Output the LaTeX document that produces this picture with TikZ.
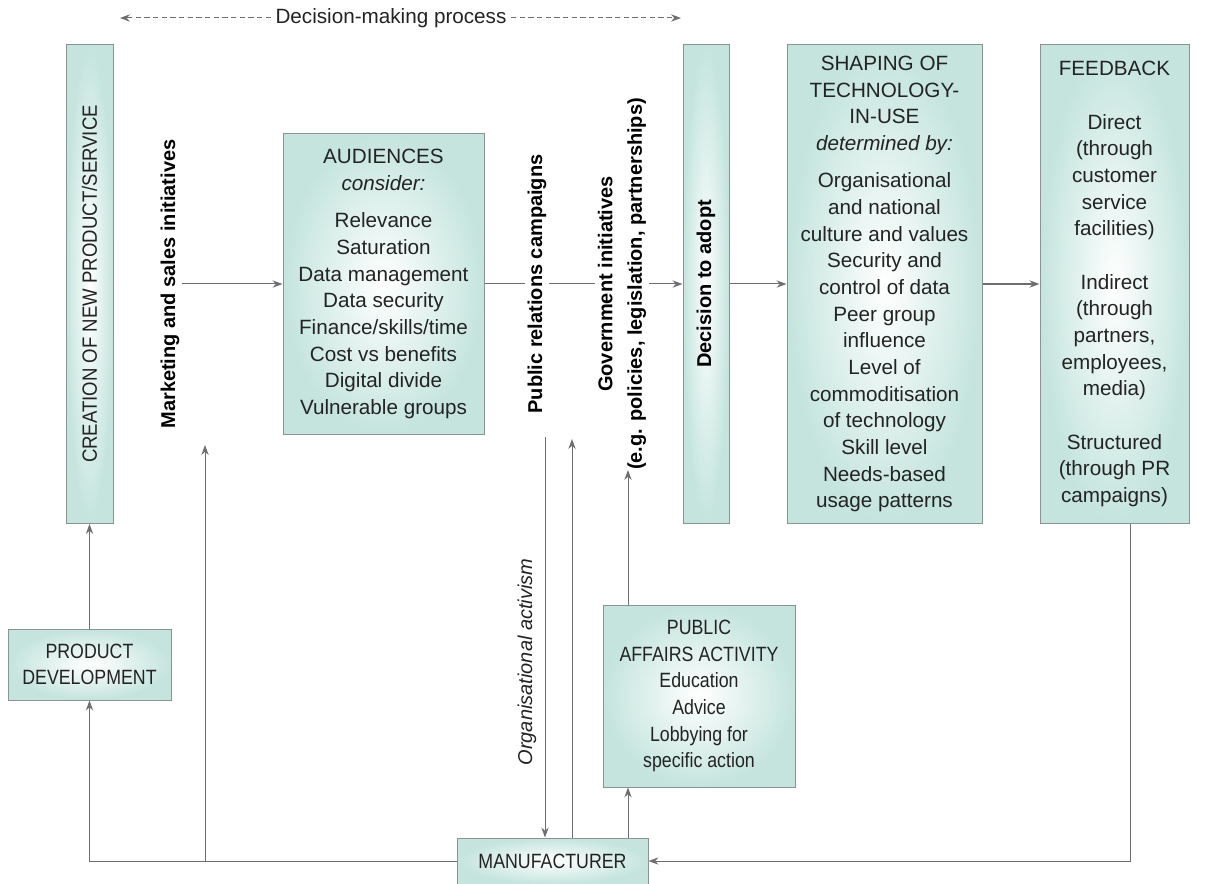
\documentclass[tikz,border=0pt]{standalone}
\usepackage{fontspec}
\setmainfont{Liberation Sans}
\usepackage{graphicx}
\usepackage{tikz}
\usetikzlibrary{positioning,arrows.meta,shadings}

\definecolor{boxteal}{RGB}{196,228,221}
\definecolor{boxline}{RGB}{138,146,146}
\definecolor{linegray}{RGB}{110,110,112}
\definecolor{txtgray}{RGB}{35,35,35}

\newcommand{\narrow}[1]{\scalebox{0.86}[1]{#1}}

\begin{document}
\begin{tikzpicture}[x=0.75pt,y=0.75pt,yscale=-1,xscale=1,
        box/.style={draw=boxline,line width=0.75pt,inner color=white,outer color=boxteal,
                align=center,inner sep=0pt,text=txtgray,font=\fontsize{15.5}{20}\selectfont},
        lbl/.style={text=black,inner sep=2pt,font=\fontsize{15}{20}\selectfont\bfseries},
        con/.style={draw=linegray,line width=0.75pt},
        arr/.style={con,-{Stealth[length=7.5pt,width=5.5pt,inset=2.5pt]}},
        dasharr/.style={con,dash pattern=on 4pt off 2.5pt,-{Stealth[length=7.5pt,width=5.5pt,inset=2.5pt]}}]
        \useasboundingbox (0,0) rectangle (1208,884);

        % Top: decision-making span
        \node [text=txtgray,font=\fontsize{15.5}{20}\selectfont] (dm) at (391,18) {Decision-making process};
        \coordinate (dmL) at (120,18);
        \coordinate (dmR) at (681,18);
        \draw [dasharr] (dm) -- (dmL);
        \draw [dasharr] (dm) -- (dmR);

        % Main row of boxes
        \node [box,minimum width=35.25pt,minimum height=359.25pt] (creation) at (89.5,284)
                {\rotatebox{90}{\scalebox{0.9}[1]{CREATION OF NEW PRODUCT/SERVICE}}};
        \node [lbl,rotate=90] (mkt) at (170,284) {Marketing and sales initiatives};
        \node [box,minimum width=150.75pt,minimum height=225.75pt] (aud) at (383.5,284)
                {AUDIENCES\\ \textit{consider:}\\[8pt]
                 Relevance\\ Saturation\\ Data management\\ Data security\\
                 Finance/skills/time\\ Cost vs benefits\\ Digital divide\\ Vulnerable groups};
        \node [lbl,rotate=90] (pr) at (537,284) {Public relations campaigns};
        \node [lbl,rotate=90,align=center,font=\fontsize{15}{22}\selectfont\bfseries] (gov) at (622,284)
                {Government initiatives\\(e.g. policies, legislation, partnerships)};
        \node [box,minimum width=34.5pt,minimum height=359.25pt] (dec) at (706,284)
                {\rotatebox{90}{\fontsize{15}{20}\selectfont\bfseries\color{black}Decision to adopt}};
        \node [box,minimum width=146.25pt,minimum height=359.25pt] (shp) at (884.5,284)
                {SHAPING OF\\ TECHNOLOGY-\\ IN-USE\\ \textit{determined by:}\\[8pt]
                 Organisational\\ and national\\ culture and values\\ Security and\\
                 control of data\\ Peer group\\ influence\\ Level of\\ commoditisation\\
                 of technology\\ Skill level\\ Needs-based\\ usage patterns};
        \node [box,minimum width=111.75pt,minimum height=359.25pt] (fb) at (1114.5,284)
                {FEEDBACK\\[20pt] Direct\\ (through\\ customer\\ service\\ facilities)\\[20pt]
                 Indirect\\ (through\\ partners,\\ employees,\\ media)\\[20pt]
                 Structured\\ (through PR\\ campaigns)};

        \draw [arr] (mkt) -- (aud);
        \draw [con] (aud) -- (pr);
        \draw [con] (pr) -- (gov);
        \draw [arr] (gov) -- (dec);
        \draw [arr] (dec) -- (shp);
        \draw [arr,line width=1.6pt] (shp) -- (fb);

        % Lower part
        \node [box,minimum width=122.25pt,minimum height=53.25pt] (pd) at (89.5,664.5)
                {\narrow{PRODUCT}\\ \narrow{DEVELOPMENT}};
        \node [box,minimum width=144pt,minimum height=136.5pt] (pa) at (699,696)
                {\narrow{PUBLIC}\\ \narrow{AFFAIRS ACTIVITY}\\ \narrow{Education}\\ \narrow{Advice}\\
                 \narrow{Lobbying for}\\ \narrow{specific action}};
        \node [box,minimum width=143.25pt,minimum height=34.5pt] (man) at (552.5,861)
                {\narrow{MANUFACTURER}};
        \node [rotate=90,text=txtgray,font=\fontsize{15}{20}\selectfont\itshape] (oa) at (527,662)
                {Organisational activism};

        \coordinate (jm) at (205,861);
        \coordinate (mktin) at (205,445);
        \coordinate (oadown) at (545,437);
        \coordinate (oaup) at (572,439);
        \coordinate (paup) at (628,470);
        \coordinate (fbx) at (1130,861);

        \draw [arr] (pd) -- (creation);
        \draw [arr] (man.west) -| (pd.south);
        \draw [arr] (jm) -- (mktin);
        \draw [arr] (oadown) -- (oadown |- man.north);
        \draw [arr] (man.north -| oaup) -- (oaup);
        \draw [arr] (man.north -| paup) -- (pa.south -| paup);
        \draw [arr] (pa.north -| paup) -- (paup);
        \draw [arr] (fb.south -| fbx) |- (man.east);
\end{tikzpicture}
\end{document}
